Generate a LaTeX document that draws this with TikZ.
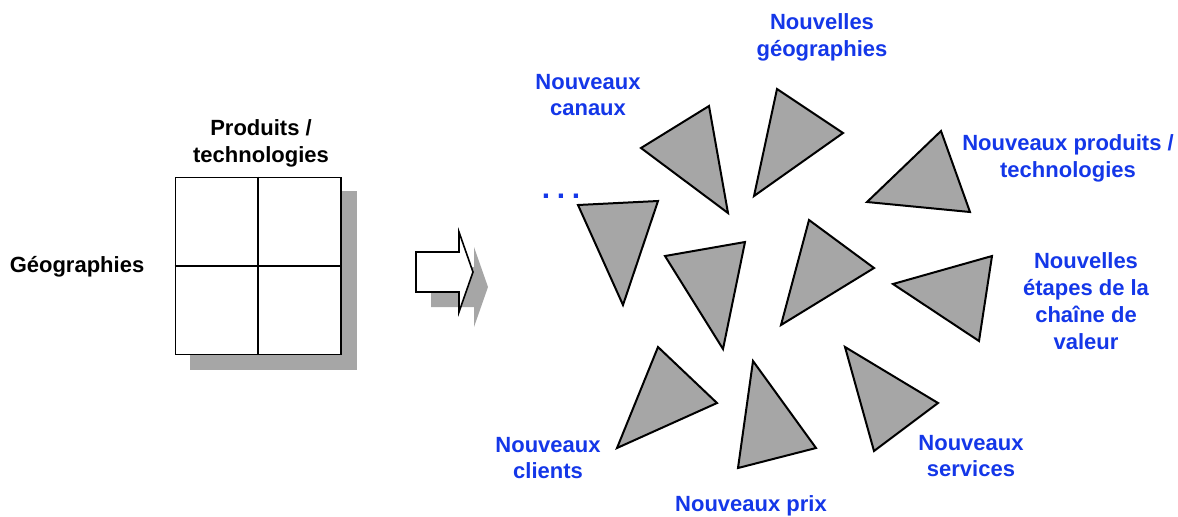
\documentclass[tikz,border=0pt]{standalone}
\usepackage{fontspec}
\setmainfont{Liberation Sans}
\usepackage{tikz}
\usetikzlibrary{positioning,calc}
\definecolor{bleu}{HTML}{1437E8}
\definecolor{gristri}{HTML}{A6A6A6}

\begin{document}
\begin{tikzpicture}[x=0.5pt,y=-0.5pt,
    etiq/.style={font=\fontsize{11}{13.4}\selectfont\bfseries,align=center,inner sep=0pt},
    axe/.style={etiq,black},
    piste/.style={etiq,text=bleu},
    pointe/.style={fill=gristri,draw=black,line width=1pt,line join=miter},
    ombre/.style={fill=gristri,draw=none}]
  \useasboundingbox (0,0) rectangle (1178,516);
  % la matrice de départ, avec son ombre
  \fill[ombre] (190,191) rectangle (357,370);
  \node[draw,fill=white,line width=0.8pt,minimum width=82.85pt,minimum height=88.5pt,inner sep=0pt] (grille) at (258.2,265.8) {};
  \draw[line width=0.8pt] (grille.north) -- (grille.south);
  \draw[line width=0.8pt] (grille.west) -- (grille.east);
  \node[axe] (prodtech) at (261,143) {Produits /\\technologies};
  \node[axe] (geo) at (77,267) {Géographies};
  % la flèche creuse
  \fill[ombre] (431,267) -- (474,267) -- (474,247) -- (488,287) -- (474,327) -- (474,307) -- (431,307) -- cycle;
  \filldraw[fill=white,draw=black,line width=0.8pt] (416,252) -- (459,252) -- (459,232) -- (473,272) -- (459,312) -- (459,292) -- (416,292) -- cycle;
  % les pointes, dans tous les sens
  \foreach \ax/\ay/\bx/\by/\cx/\cy in {
      641/148/709/106/728/213,
      777/89/843/133/754/196,
      941/131/867/202/970/212,
      992/256/893/284/979/341,
      578/205/658/201/623/305,
      665/256/745/242/723/349,
      809/220/874/268/781/325,
      658/347/717/403/617/448,
      753/361/816/448/738/468,
      845/347/938/403/874/451}
    \filldraw[pointe] (\ax,\ay) -- (\bx,\by) -- (\cx,\cy) -- cycle;
  \node[piste] (geos) at (822,37) {Nouvelles\\géographies};
  \node[piste] (canaux) at (588,95) {Nouveaux\\canaux};
  \node[piste] (produits) at (1068,158) {Nouveaux produits /\\technologies};
  \node[piste] (etapes) at (1086,301) {Nouvelles\\étapes de la\\chaîne de\\valeur};
  \node[piste] (clients) at (548,458) {Nouveaux\\clients};
  \node[piste] (prix) at (751,506) {Nouveaux prix};
  \node[piste] (services) at (971,456) {Nouveaux\\services};
  \node[piste,font=\fontsize{15}{15}\selectfont\bfseries,anchor=base] (autres) at (561,198) {.\hspace{3.3pt}.\hspace{3.3pt}.};
\end{tikzpicture}
\end{document}
